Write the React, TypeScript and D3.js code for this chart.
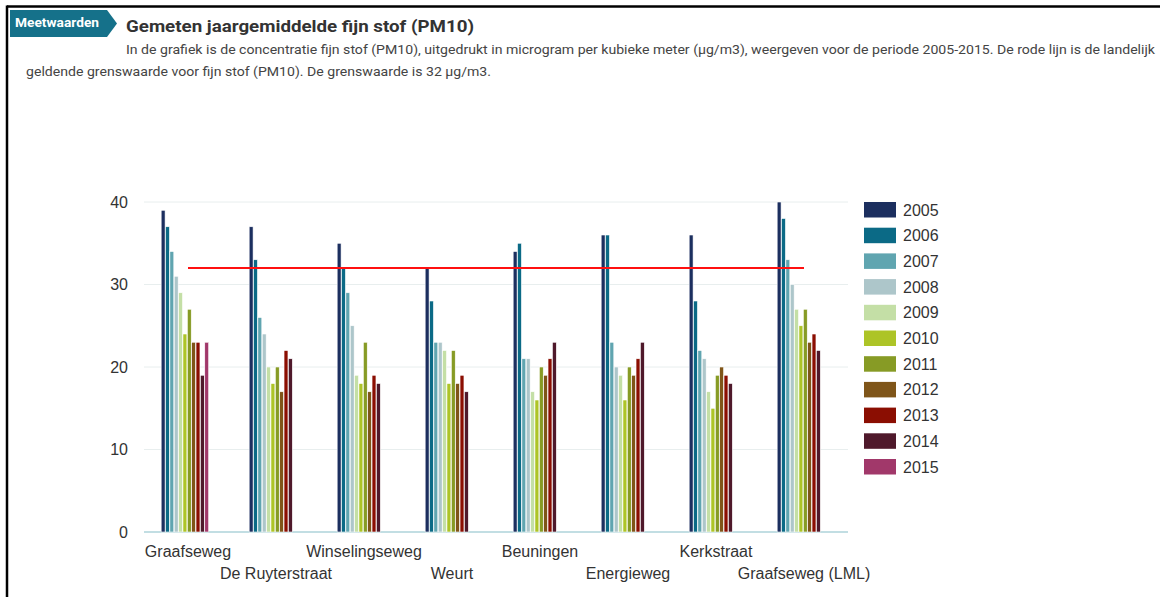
import React, { useRef, useEffect } from 'react';
import * as d3 from 'd3';

const locations = [
  'Graafseweg',
  'De Ruyterstraat',
  'Winselingseweg',
  'Weurt',
  'Beuningen',
  'Energieweg',
  'Kerkstraat',
  'Graafseweg (LML)',
];

const years = ['2005', '2006', '2007', '2008', '2009', '2010', '2011', '2012', '2013', '2014', '2015'];

const yearColors = [
  '#1c2f5f', '#0b6a86', '#60a5b0', '#adc6ca', '#c4dfa6', '#adc427',
  '#879b25', '#7f5519', '#8b0e02', '#4f192b', '#a1386a',
];

// values per year, in location order (µg/m3)
const v2005 = [39, 37, 35, 32, 34, 36, 36, 40];
const v2006 = [37, 33, 32, 28, 35, 36, 28, 38];
const v2007 = [34, 26, 29, 23, 21, 23, 22, 33];
const v2008 = [31, 24, 25, 23, 21, 20, 21, 30];
const v2009 = [29, 20, 19, 22, 17, 19, 17, 27];
const v2010 = [24, 18, 18, 18, 16, 16, 15, 25];
const v2011 = [27, 20, 23, 22, 20, 20, 19, 27];
const v2012 = [23, 17, 17, 18, 19, 19, 20, 23];
const v2013 = [23, 22, 19, 19, 21, 21, 19, 24];
const v2014 = [19, 21, 18, 17, 23, 23, 18, 22];
const v2015 = [23, null, null, null, null, null, null, null];

const yearValues = [v2005, v2006, v2007, v2008, v2009, v2010, v2011, v2012, v2013, v2014, v2015];

const yTicks = [0, 10, 20, 30, 40];
const limitValue = 32;

const title = 'Gemeten jaargemiddelde fijn stof (PM10)';
const descLine1 =
  'In de grafiek is de concentratie fijn stof (PM10), uitgedrukt in microgram per kubieke meter (µg/m3), weergeven voor de periode 2005-2015. De rode lijn is de landelijk';
const descLine2 = 'geldende grenswaarde voor fijn stof (PM10). De grenswaarde is 32 µg/m3.';

const width = 1160;
const height = 597;

const App: React.FC = () => {
  const svgRef = useRef<SVGSVGElement>(null);

  useEffect(() => {
    if (!svgRef.current) return;
    d3.select(svgRef.current).selectAll('*').remove();
    const svg = d3.select(svgRef.current);

    // frame
    svg.append('line')
      .attr('x1', 7).attr('y1', 6.5).attr('x2', width).attr('y2', 6.5)
      .attr('stroke', '#000').attr('stroke-width', 2.5);
    svg.append('line')
      .attr('x1', 7).attr('y1', 5.5).attr('x2', 7).attr('y2', height)
      .attr('stroke', '#000').attr('stroke-width', 2.5);

    // header tab
    svg.append('path')
      .attr('d', 'M10,10 H107 L117,23.5 L107,37 H10 Z')
      .attr('fill', '#15718a');
    svg.append('text')
      .attr('x', 15).attr('y', 27)
      .attr('fill', '#fff')
      .attr('font-family', 'Roboto, sans-serif')
      .attr('font-weight', 'bold')
      .attr('font-size', '12.5px')
      .attr('textLength', 84)
      .attr('lengthAdjust', 'spacingAndGlyphs')
      .text('Meetwaarden');

    svg.append('text')
      .attr('x', 126).attr('y', 32)
      .attr('fill', '#333')
      .attr('font-family', 'Roboto, sans-serif')
      .attr('font-weight', 'bold')
      .attr('font-size', '17px')
      .attr('textLength', 348)
      .attr('lengthAdjust', 'spacingAndGlyphs')
      .text(title);

    svg.append('text')
      .attr('x', 126).attr('y', 54)
      .attr('fill', '#444')
      .attr('font-family', 'Roboto, sans-serif')
      .attr('font-size', '13.5px')
      .attr('textLength', 1029)
      .attr('lengthAdjust', 'spacingAndGlyphs')
      .text(descLine1);
    svg.append('text')
      .attr('x', 26).attr('y', 76)
      .attr('fill', '#444')
      .attr('font-family', 'Roboto, sans-serif')
      .attr('font-size', '13.5px')
      .attr('textLength', 465)
      .attr('lengthAdjust', 'spacingAndGlyphs')
      .text(descLine2);

    // scales
    const x0 = d3.scaleBand<string>().domain(locations).range([144, 848]).padding(0);
    const bw = x0.bandwidth();
    const x1 = d3.scaleBand<string>()
      .domain(years)
      .range([bw * 0.195, bw * 0.195 + bw * 0.54])
      .paddingInner(0.1);
    const y = d3.scaleLinear().domain([0, 40]).range([532, 202]);

    const chart = svg.append('g').attr('font-family', '"Liberation Sans", Arial, sans-serif');

    // grid
    yTicks.forEach(t => {
      chart.append('line')
        .attr('x1', 144).attr('x2', 848)
        .attr('y1', y(t)).attr('y2', y(t))
        .attr('stroke', t === 0 ? '#aed3da' : '#e8eeee')
        .attr('stroke-width', t === 0 ? 1.5 : 1);
      chart.append('text')
        .attr('x', 128).attr('y', y(t))
        .attr('dy', '0.36em')
        .attr('text-anchor', 'end')
        .attr('fill', '#333')
        .attr('font-size', '16px')
        .text(String(t));
    });

    // bars
    locations.forEach((loc, li) => {
      const g = chart.append('g').attr('transform', `translate(${x0(loc)},0)`);
      years.forEach((yr, yi) => {
        const v = yearValues[yi][li];
        if (v == null) return;
        g.append('rect')
          .attr('x', x1(yr) as number)
          .attr('y', y(v))
          .attr('width', x1.bandwidth())
          .attr('height', y(0) - y(v))
          .attr('fill', yearColors[yi])
          .attr('stroke', '#fff')
          .attr('stroke-width', 0.6);
      });
    });

    // limit line
    const first = locations[0];
    const last = locations[locations.length - 1];
    chart.append('line')
      .attr('x1', (x0(first) as number) + bw / 2)
      .attr('x2', (x0(last) as number) + bw / 2)
      .attr('y1', y(limitValue)).attr('y2', y(limitValue))
      .attr('stroke', '#ff1010')
      .attr('stroke-width', 2);

    // x labels (staggered)
    locations.forEach((loc, i) => {
      chart.append('text')
        .attr('x', (x0(loc) as number) + bw / 2)
        .attr('y', i % 2 === 0 ? 557 : 579)
        .attr('text-anchor', 'middle')
        .attr('fill', '#333')
        .attr('font-size', '16px')
        .text(loc);
    });

    // legend
    years.forEach((yr, i) => {
      const ly = 202 + i * 25.7;
      chart.append('rect')
        .attr('x', 864).attr('y', ly)
        .attr('width', 32).attr('height', 15.5)
        .attr('fill', yearColors[i]);
      chart.append('text')
        .attr('x', 903).attr('y', ly + 7.75)
        .attr('dy', '0.36em')
        .attr('fill', '#333')
        .attr('font-size', '16px')
        .text(yr);
    });
  }, []);

  return (
    <svg
      ref={svgRef}
      width={width}
      height={height}
      style={{ position: 'absolute', left: 0, top: 0, background: '#fff' }}
    />
  );
};

export default App;
